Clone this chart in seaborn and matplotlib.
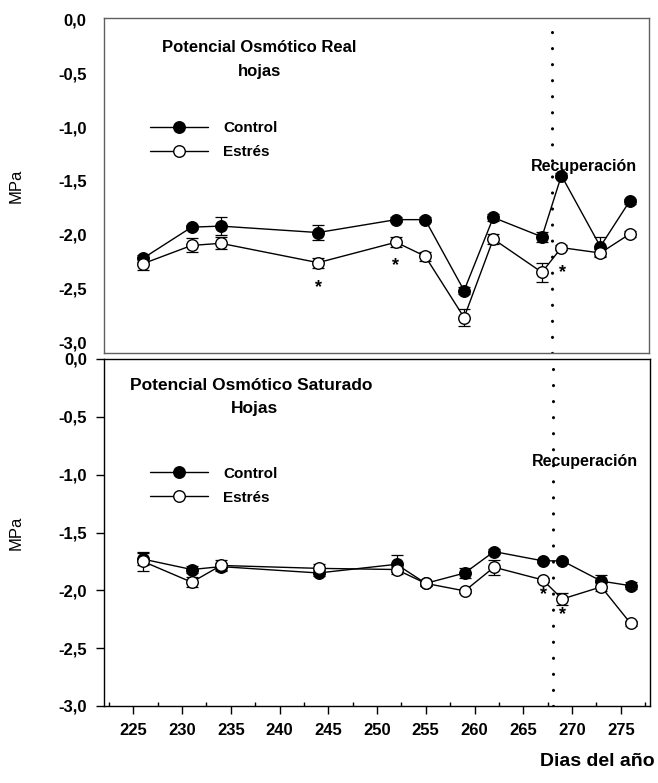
import matplotlib
matplotlib.use("Agg")
import matplotlib.pyplot as plt
from matplotlib.lines import Line2D
from matplotlib.ticker import MultipleLocator
import seaborn as sns

sns.set_style("ticks")
plt.rcParams["font.family"] = ["Liberation Sans", "DejaVu Sans"]
plt.rcParams["text.color"] = "black"
plt.rcParams["axes.labelcolor"] = "black"
plt.rcParams["xtick.color"] = "black"
plt.rcParams["ytick.color"] = "black"

# dias del año muestreados
dias = [226, 231, 234, 244, 252, 255, 259, 262, 267, 269, 273, 276]

# Potencial osmotico real (hojas)
real_control = [-2.22, -1.93, -1.92, -1.98, -1.86, -1.86, -2.52, -1.84, -2.02, -1.45, -2.11, -1.69]
real_control_err = [0.03, 0.02, 0.085, 0.07, 0.02, 0.02, 0.03, 0.03, 0.045, 0.02, 0.085, 0.02]
real_estres = [-2.27, -2.10, -2.08, -2.26, -2.07, -2.20, -2.77, -2.04, -2.35, -2.12, -2.17, -1.995]
real_estres_err = [0.06, 0.065, 0.055, 0.045, 0.045, 0.04, 0.075, 0.045, 0.09, 0.02, 0.04, 0.03]

# Potencial osmotico saturado (hojas)
sat_control = [-1.73, -1.82, -1.795, -1.85, -1.775, -1.94, -1.85, -1.665, -1.745, -1.745, -1.92, -1.96]
sat_control_err = [0.05, 0.03, 0.03, 0.03, 0.08, 0.02, 0.04, 0.02, 0.02, 0.02, 0.05, 0.03]
sat_estres = [-1.75, -1.93, -1.785, -1.81, -1.82, -1.94, -2.005, -1.80, -1.91, -2.075, -1.97, -2.285]
sat_estres_err = [0.08, 0.045, 0.05, 0.04, 0.02, 0.02, 0.02, 0.065, 0.02, 0.05, 0.04, 0.02]

# diferencias significativas (*)
real_ast_x = [244, 252, 269.1]
real_ast_y = [-2.49, -2.29, -2.35]
sat_ast_x = [267.1, 269.0]
sat_ast_y = [-2.04, -2.21]

dia_recuperacion = 268
ytick_vals = [0.0, -0.5, -1.0, -1.5, -2.0, -2.5, -3.0]
ytick_labels = ["0,0", "-0,5", "-1,0", "-1,5", "-2,0", "-2,5", "-3,0"]
xtick_vals = [225, 230, 235, 240, 245, 250, 255, 260, 265, 270, 275]

fig = plt.figure(figsize=(6.58, 7.83), dpi=100)
ax1 = fig.add_axes([104 / 658, 1 - 353 / 783, 545 / 658, 335 / 783])
ax2 = fig.add_axes([104 / 658, 1 - 706 / 783, 546 / 658, 347 / 783], sharex=ax1)


def draw_series(ax, control, control_err, estres, estres_err):
    for vals, err, face in [(control, control_err, "black"),
                            (estres, estres_err, "white")]:
        ax.errorbar(dias, vals, yerr=err, fmt="none", ecolor="black",
                    elinewidth=0.9, capsize=4, capthick=0.9, zorder=2)
        sns.lineplot(x=dias, y=vals, ax=ax, color="black", linewidth=1,
                     marker="o", markersize=8.3, markerfacecolor=face,
                     markeredgecolor="black", markeredgewidth=1, zorder=3)
    ax.axvline(dia_recuperacion, color="black", linewidth=2.2,
               linestyle=(0, (0.05, 5.2)), dash_capstyle="round", zorder=1)
    handles = [Line2D([], [], color="black", lw=1, marker="o", markersize=8.3,
                      markerfacecolor=f, markeredgecolor="black")
               for f in ["black", "white"]]
    return handles


h = draw_series(ax1, real_control, real_control_err, real_estres, real_estres_err)
draw_series(ax2, sat_control, sat_control_err, sat_estres, sat_estres_err)

leg_kw = dict(loc="center left", bbox_to_anchor=(0.07, 0.635), frameon=False,
              prop={"weight": "bold", "size": 11}, handlelength=3.8,
              handletextpad=1.0, labelspacing=0.65, borderpad=0)

# panel superior
ax1.set_xlim(222, 278)
ax1.set_ylim(-3.1, 0.015)
ax1.set_yticks(ytick_vals)
ax1.set_yticklabels(ytick_labels, fontsize=12, fontweight="bold")
ax1.tick_params(which="both", left=False, bottom=False, labelbottom=False, pad=9)
for s in ax1.spines.values():
    s.set_color("#606060")
    s.set_linewidth(1)
ax1.set_ylabel("MPa", fontsize=12)
ax1.yaxis.set_label_coords(-0.148, 0.5)
ax1.text(0.285, 0.913, "Potencial Osmótico Real", transform=ax1.transAxes,
         ha="center", va="center", fontsize=12, fontweight="bold")
ax1.text(0.285, 0.839, "hojas", transform=ax1.transAxes,
         ha="center", va="center", fontsize=12, fontweight="bold")
ax1.text(0.88, 0.558, "Recuperación", transform=ax1.transAxes,
         ha="center", va="center", fontsize=11.5, fontweight="bold")
ax1.legend(h, ["Control", "Estrés"], **leg_kw)
for x, y in zip(real_ast_x, real_ast_y):
    ax1.text(x, y, "*", ha="center", va="center", fontsize=13, fontweight="bold")

# panel inferior
ax2.set_ylim(-3.0, 0.0)
ax2.set_yticks(ytick_vals)
ax2.set_yticklabels(ytick_labels, fontsize=12, fontweight="bold")
ax2.set_xticks(xtick_vals)
ax2.set_xticklabels([str(v) for v in xtick_vals], fontsize=12, fontweight="bold")
ax2.xaxis.set_minor_locator(MultipleLocator(2.5))
ax2.tick_params(axis="both", which="major", direction="out", length=6, width=1, pad=6)
ax2.tick_params(axis="x", which="minor", direction="in", length=3, width=1)
for s in ax2.spines.values():
    s.set_color("black")
    s.set_linewidth(1)
ax2.set_ylabel("MPa", fontsize=12)
ax2.yaxis.set_label_coords(-0.148, 0.5)
ax2.text(0.269, 0.925, "Potencial Osmótico Saturado", transform=ax2.transAxes,
         ha="center", va="center", fontsize=12.5, fontweight="bold")
ax2.text(0.275, 0.856, "Hojas", transform=ax2.transAxes,
         ha="center", va="center", fontsize=12.5, fontweight="bold")
ax2.text(0.881, 0.706, "Recuperación", transform=ax2.transAxes,
         ha="center", va="center", fontsize=11.5, fontweight="bold")
ax2.legend(h, ["Control", "Estrés"], **leg_kw)
for x, y in zip(sat_ast_x, sat_ast_y):
    ax2.text(x, y, "*", ha="center", va="center", fontsize=13, fontweight="bold")
ax2.set_xlabel("")

fig.text(655 / 658, 1 - 762 / 783, "Dias del año", ha="right", va="center",
         fontsize=14, fontweight="bold")

fig.savefig("out.png", dpi=100)
